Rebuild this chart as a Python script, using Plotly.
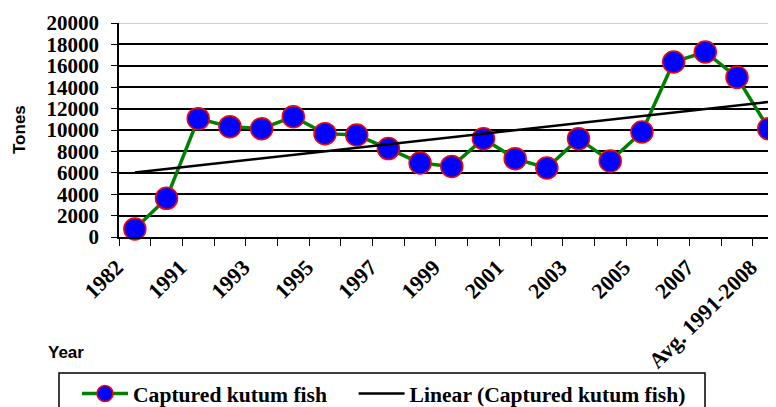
import numpy as np
import plotly.graph_objects as go

categories = ["1982", "1990", "1991", "1992", "1993", "1994", "1995", "1996", "1997", "1998",
              "1999", "2000", "2001", "2002", "2003", "2004", "2005", "2006", "2007", "2008",
              "Avg. 1991-2008"]
captured = [750, 3610, 11060, 10310, 10120, 11250, 9660, 9530, 8260, 6920,
            6600, 9190, 7320, 6450, 9190, 7100, 9810, 16360, 17290, 14920, 10120]
y_ticks = [0, 2000, 4000, 6000, 8000, 10000, 12000, 14000, 16000, 18000, 20000]

xi = np.arange(len(categories))
slope, intercept = np.polyfit(xi, np.array(captured, dtype=float), 1)
trend = slope * xi + intercept

serif = "Liberation Serif"
sans = "Liberation Sans"

# page body has an 8px margin; work in window pixels and shift
OFF = 8
W, H = 776 - OFF, 407 - OFF
PL, PR, PT, PB = 119, 776, 23, 237  # plot area in window pixels
def px_x(x):
    return (x - PL) / (PR - PL)
def px_y(y):
    return (PB - y) / (PB - PT)

NBSP = "\u00a0"

fig = go.Figure()
fig.add_trace(go.Scatter(
    x=xi, y=captured, mode="lines+markers", name="<b>Captured kutum fish</b>" + NBSP * 4,
    line=dict(color="#008000", width=3.5),
    marker=dict(size=22, color="#0000FF", line=dict(color="#FF0000", width=1.5)),
    cliponaxis=False,
))
fig.add_trace(go.Scatter(
    x=[xi[0], xi[-1]], y=[trend[0], trend[-1]], mode="lines",
    name="<b>Linear (Captured kutum fish)</b>",
    line=dict(color="black", width=2.5),
    cliponaxis=False,
))

fig.update_layout(
    width=W, height=H,
    margin=dict(l=PL - OFF, r=0, t=PT - OFF, b=H - (PB - OFF), autoexpand=False),
    paper_bgcolor="white", plot_bgcolor="white",
    showlegend=True,
    legend=dict(
        orientation="h", xref="container", yref="container",
        x=(77 - OFF) / W, y=1 - (373 - OFF) / H, xanchor="left", yanchor="top",
        borderwidth=0, bgcolor="rgba(0,0,0,0)",
        font=dict(family=serif, size=21.6, color="black"),
        itemwidth=46,
        itemsizing="trace",
    ),
    xaxis=dict(
        range=[-0.5, 20.23], showgrid=False, zeroline=False,
        showline=True, linecolor="black", linewidth=1.5,
        tickmode="array", tickvals=list(xi[::2]), ticktext=[f"<b>{c}</b>" for c in categories[::2]],
        ticks="", tickangle=-45,
        ticklabelshift=-18, ticklabelstandoff=7,
        tickfont=dict(family=serif, size=22, color="black"),
        minor=dict(tick0=-0.5, dtick=1, ticks="outside", ticklen=7, tickcolor="black",
                   tickwidth=1.2, showgrid=False),
    ),
    yaxis=dict(
        range=[0, 20000], tickmode="array", tickvals=y_ticks,
        ticktext=[f"<b>{v}</b>" for v in y_ticks],
        showgrid=True, gridcolor="black", gridwidth=1.5,
        zeroline=False, showline=True, linecolor="black", linewidth=1.5,
        ticks="outside", ticklen=6, tickcolor="black", tickwidth=1.2,
        ticklabelstandoff=8,
        tickfont=dict(family=serif, size=21, color="black"),
    ),
    shapes=[
        dict(type="line", xref="paper", yref="y", x0=0, x1=1, y0=20000, y1=20000,
             line=dict(color="#d0d0d0", width=2), layer="above"),
        dict(type="rect", xref="paper", yref="paper",
             x0=px_x(59), x1=px_x(705), y0=px_y(373), y1=px_y(430),
             line=dict(color="black", width=1.5), fillcolor="rgba(0,0,0,0)", layer="above"),
    ],
    annotations=[
        dict(text="<b>Tones</b>", xref="paper", yref="paper", x=px_x(19), y=px_y(130),
             xanchor="center", yanchor="middle", textangle=-90, showarrow=False,
             font=dict(family=sans, size=17, color="black")),
        dict(text="<b>Year</b>", xref="paper", yref="paper", x=px_x(46), y=px_y(352),
             xanchor="left", yanchor="middle", showarrow=False,
             font=dict(family=sans, size=17, color="black")),
    ],
)

fig.write_html("out.html")
